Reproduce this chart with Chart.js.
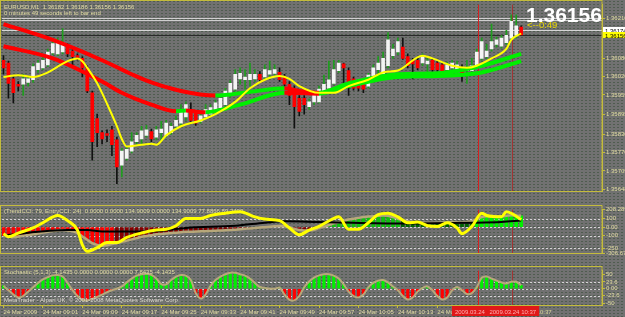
<!DOCTYPE html>
<html>
<head>
<meta charset="utf-8">
<title>EURUSD,M1</title>
<script src="https://cdn.jsdelivr.net/npm/chart.js@4.4.1/dist/chart.umd.min.js"></script>
<style>
  html, body { margin: 0; padding: 0; }
  body {
    width: 625px; height: 317px; overflow: hidden; position: relative;
    background-color: #717171;
    background-image: radial-gradient(circle, #4f5c4f 0.7px, transparent 0.9px);
    background-size: 4px 3px;
  }
  canvas { position: absolute; left: 0; }
</style>
</head>
<body>
<canvas id="price" width="625" height="205" style="top:0"></canvas>
<canvas id="cci" width="625" height="61" style="top:205px"></canvas>
<canvas id="stoch" width="625" height="51" style="top:266px"></canvas>
<script>
// EURUSD M1, 24 Mar 2009 08:53 .. 10:38, one entry per bar
const open = [
  1.36073,1.36064,1.36012,1.35994,1.35994,1.36000,1.36009,1.36042,1.36048,1.36058,
  1.36097,1.36094,1.36100,1.36119,1.36103,1.36088,1.36079,1.36048,1.35966,1.35881,
  1.35835,1.35832,1.35844,1.35811,1.35728,1.35750,1.35774,1.35805,1.35814,1.35826,
  1.35838,1.35820,1.35835,1.35826,1.35835,1.35856,1.35866,1.35887,1.35905,1.35902,
  1.35872,1.35887,1.35896,1.35905,1.35917,1.35927,1.35957,1.35978,1.36012,1.36009,
  1.36009,1.36012,1.36027,1.36018,1.36027,1.36030,1.36033,1.36018,1.35994,1.35978,
  1.35948,1.35948,1.35920,1.35936,1.35936,1.35972,1.35981,1.35997,1.36039,1.36061,
  1.36039,1.36012,1.36003,1.35997,1.35988,1.36018,1.36042,1.36027,1.36055,1.36088,
  1.36100,1.36116,1.36085,1.36073,1.36073,1.36064,1.36061,1.36073,1.36064,1.36058,
  1.36042,1.36048,1.36042,1.36048,1.36039,1.36039,1.36055,1.36079,1.36085,1.36110,
  1.36125,1.36119,1.36131,1.36146,1.36155,1.36182
];
const high = [
  1.36088,1.36070,1.36018,1.36003,1.36027,1.36018,1.36061,1.36073,1.36085,1.36110,
  1.36140,1.36146,1.36177,1.36128,1.36113,1.36094,1.36085,1.36055,1.35972,1.35896,
  1.35841,1.35844,1.35856,1.35820,1.35783,1.35789,1.35835,1.35835,1.35856,1.35859,
  1.35847,1.35856,1.35872,1.35875,1.35866,1.35890,1.35927,1.35936,1.35933,1.35908,
  1.35902,1.35927,1.35927,1.35942,1.35957,1.35981,1.36006,1.36042,1.36048,1.36042,
  1.36064,1.36042,1.36036,1.36058,1.36070,1.36058,1.36048,1.36027,1.36003,1.35988,
  1.35957,1.35957,1.35945,1.35972,1.35988,1.36024,1.36070,1.36073,1.36073,1.36064,
  1.36048,1.36018,1.36009,1.36003,1.36030,1.36058,1.36085,1.36100,1.36164,1.36125,
  1.36146,1.36146,1.36094,1.36079,1.36079,1.36094,1.36079,1.36079,1.36070,1.36064,
  1.36067,1.36073,1.36070,1.36058,1.36073,1.36079,1.36110,1.36146,1.36125,1.36192,
  1.36149,1.36155,1.36171,1.36222,1.36222,1.36186
];
const low = [
  1.36027,1.35948,1.35933,1.35972,1.35957,1.35988,1.36000,1.36033,1.36042,1.36052,
  1.36091,1.36088,1.36094,1.36085,1.36058,1.36073,1.36018,1.35966,1.35744,1.35789,
  1.35798,1.35805,1.35759,1.35667,1.35689,1.35744,1.35768,1.35798,1.35795,1.35820,
  1.35805,1.35811,1.35805,1.35820,1.35829,1.35850,1.35859,1.35875,1.35872,1.35859,
  1.35866,1.35881,1.35890,1.35899,1.35911,1.35920,1.35951,1.35972,1.35994,1.35978,
  1.35988,1.36003,1.36000,1.36012,1.36018,1.36024,1.36003,1.35988,1.35927,1.35850,
  1.35890,1.35896,1.35911,1.35927,1.35933,1.35966,1.35975,1.35994,1.36033,1.35997,
  1.35957,1.35975,1.35972,1.35966,1.35981,1.36012,1.36012,1.36021,1.36048,1.36079,
  1.36091,1.36076,1.36048,1.36012,1.36042,1.36055,1.36018,1.36036,1.36036,1.36033,
  1.36036,1.36042,1.36036,1.36003,1.35997,1.36030,1.36048,1.36073,1.36079,1.36103,
  1.36116,1.36113,1.36125,1.36140,1.36146,1.36156
];
const close = [
  1.36048,1.35997,1.35966,1.35988,1.36012,1.36012,1.36052,1.36064,1.36073,1.36100,
  1.36128,1.36137,1.36131,1.36094,1.36085,1.36082,1.36048,1.35972,1.35805,1.35835,
  1.35814,1.35826,1.35795,1.35722,1.35774,1.35780,1.35805,1.35826,1.35841,1.35844,
  1.35814,1.35844,1.35847,1.35866,1.35856,1.35875,1.35902,1.35927,1.35875,1.35866,
  1.35890,1.35911,1.35917,1.35933,1.35948,1.35972,1.35997,1.36027,1.36030,1.36018,
  1.36027,1.36027,1.36009,1.36042,1.36039,1.36042,1.36009,1.35994,1.35957,1.35920,
  1.35905,1.35927,1.35936,1.35966,1.35978,1.35994,1.36009,1.36042,1.36064,1.36048,
  1.35997,1.35981,1.35981,1.35978,1.36024,1.36048,1.36064,1.36079,1.36140,1.36110,
  1.36134,1.36079,1.36055,1.36061,1.36048,1.36085,1.36070,1.36042,1.36042,1.36039,
  1.36058,1.36064,1.36058,1.36027,1.36048,1.36055,1.36100,1.36134,1.36103,1.36134,
  1.36140,1.36146,1.36155,1.36201,1.36186,1.36156
];

// moving averages, read as [bar, price]
const fastMa = [
  [0,1.36018],[3,1.36024],[6,1.36018],[9,1.36033],[11,1.36052],[13,1.36070],[15,1.36079],
  [16,1.36070],[17,1.36048],[19,1.35997],[21,1.35930],[23,1.35856],[24,1.35814],[25,1.35789],
  [28,1.35795],[30,1.35798],[31,1.35795],[33,1.35826],[36,1.35856],[40,1.35875],[43,1.35896],
  [47,1.35936],[50,1.35981],[53,1.36009],[56,1.36021],[58,1.36012],[60,1.35988],[64,1.35966],
  [67,1.35966],[70,1.35988],[74,1.36009],[77,1.36033],[80,1.36039],[85,1.36088],[87,1.36079],
  [91,1.36055],[94,1.36048],[96,1.36055],[99,1.36079],[102,1.36110],[103,1.36140],[105,1.36161]
];
const slowMaA = [
  [0,1.36192],[10,1.36140],[20,1.36073],[26,1.36027],[30,1.36000],[36,1.35972],[43,1.35957],
  [50,1.35969],[57,1.35981],[60,1.35972],[64,1.35966],[70,1.35997],[80,1.36027],[88,1.36030],
  [97,1.36055],[105,1.36094]
];
const slowMaB = [
  [0,1.36119],[10,1.36079],[20,1.36003],[24,1.35966],[30,1.35927],[35,1.35905],[37,1.35908],
  [39,1.35904],[41,1.35902],[48,1.35927],[57,1.35966],[60,1.35965],[64,1.35963],[70,1.35988],
  [80,1.36018],[88,1.36021],[97,1.36033],[105,1.36070]
];

// CCI panel
const cciTrend = [
  -100,-110,-120,-110,-100,-95,-85,-75,-65,-55,
  -45,-40,-35,-40,-50,-70,-110,-150,-190,-210,
  -220,-215,-200,-190,-175,-160,-145,-130,-115,-105,
  -95,-85,-80,-75,-70,-65,-60,-55,-55,-52,
  -50,-48,-45,-42,-40,-38,-35,-30,-25,-20,
  -15,-10,-5,0,5,10,15,10,0,-20,
  -35,-40,-38,-30,-10,5,25,45,60,75,
  90,100,110,120,125,130,135,138,135,120,
  100,85,70,60,55,52,50,50,52,55,
  58,60,58,55,60,70,95,120,130,132,
  130,130,135,140,138,134.9009
];
const cciEntry = [
  [0,-78],[1,-113],[3,-70],[6,-9],[8,52],[11,139],[13,78],[15,-35],[16,-209],[17,-287],
  [19,-243],[21,-183],[23,-183],[25,-122],[28,-70],[31,-35],[33,-26],[35,17],[37,104],[40,104],
  [42,139],[45,165],[48,183],[51,122],[53,96],[56,78],[58,-9],[60,-90],[62,-35],[64,9],
  [67,104],[68,122],[70,-26],[72,-26],[74,52],[76,148],[78,165],[80,122],[82,52],[84,61],
  [86,17],[88,9],[90,52],[92,-9],[93,-78],[95,9],[97,165],[98,139],[101,122],[102,183],
  [103,165],[105,89.24]
];
const cciSignal = [
  [0,-96],[13,-35],[17,-35],[20,-52],[30,-52],[37,-9],[47,17],[53,52],[57,70],[64,61],
  [80,43],[95,52],[101,61],[105,77.8866]
];

// Stochastic panel
const stoch = [
  10,-5,-20,-30,-25,-10,5,20,32,40,
  46,47,42,20,-5,-25,-38,-40,-35,-28,
  -20,-12,-5,0,8,22,35,45,50,52,
  48,35,16,15,30,42,47,45,30,-15,
  -34,-20,10,30,42,50,55,55,50,45,
  35,20,6,3,0,0,4,-20,-38,-40,
  -25,5,25,38,46,50,50,45,35,15,
  -10,-25,-30,-20,5,20,28,30,22,8,
  -5,-25,-37,-30,-10,3,8,-5,-25,-37,
  -30,-5,6,-5,-18,-15,5,38,42,35,
  28,22,18,24,24,12
];

const tickBars = [0,8,16,24,32,40,48,56,64,72,80,88,96,104];
const tickLabels = ['24 Mar 2009','24 Mar 09:01','24 Mar 09:09','24 Mar 09:17','24 Mar 09:25',
  '24 Mar 09:33','24 Mar 09:41','24 Mar 09:49','24 Mar 09:57','24 Mar 10:05','24 Mar 10:13',
  '24 Mar 10:21','24 Mar 10:29','24 Mar 10:37'];
const priceTicks = [1.35648,1.35709,1.35770,1.35830,1.35895,1.35959,1.36020,1.36080,1.36210];
const cciTicks = [208.2899,100,0,-100,-250,-306.677];
const cciTickText = ['208.2899','100','0.00','-100','-250','-306.677'];
const cciLevels = [100,0,-100,-250];
const stochTicks = [50,23.6,0,-23.6,-50];
const stochTickText = ['50','23.6','0.00','-23.6','-50'];
const stochLevels = [23.6,0,-23.6];
const markers = [96, 103];
const markerText = ['2009.03.24 10:30', '2009.03.24 10:37'];
const dayHigh = 1.36210, askPrice = 1.36174;

const FRAME = '#c4bc3c';
const TEXT = '#e2dca2';
const SMALL = { family: "'Liberation Sans', sans-serif", size: 6 };
const last = close.length - 1;
const fmt = v => v.toFixed(5);
const pts = pairs => pairs.map(([x, y]) => ({ x, y }));
const isUp = i => close[i] >= open[i];
const trendColor = ctx => ctx.p1.parsed.y >= ctx.p0.parsed.y ? '#00f000' : '#ff0000';

function xAxis(show) {
  return {
    type: 'linear', min: -0.3, max: 121.4, offset: false, display: show,
    afterBuildTicks: s => { s.ticks = tickBars.map(v => ({ value: v })); },
    afterFit: s => { s.height = 12; },
    border: { color: FRAME },
    grid: { offset: false, drawOnChartArea: false, color: FRAME, tickLength: 3 },
    ticks: { autoSkip: false, maxRotation: 0, align: 'start', padding: 1, color: TEXT, font: SMALL,
      callback: (v, i) => tickLabels[i] }
  };
}
function yAxis(min, max, ticks, text) {
  return {
    position: 'right', min, max,
    afterFit: s => { s.width = 23; },
    afterBuildTicks: s => { s.ticks = ticks.map(v => ({ value: v })); },
    border: { color: FRAME },
    grid: { drawOnChartArea: false, color: FRAME, tickLength: 3 },
    ticks: { autoSkip: false, padding: 1, color: TEXT, font: SMALL, callback: text }
  };
}
const baseOptions = (padding, xShow, y) => ({
  responsive: false, animation: false, events: [],
  layout: { padding },
  plugins: { legend: { display: false }, tooltip: { enabled: false } },
  scales: { x: xAxis(xShow), y }
});

function hLine(ctx, a, y, color, width, dash) {
  ctx.save();
  ctx.strokeStyle = color; ctx.lineWidth = width; ctx.setLineDash(dash || []);
  ctx.beginPath(); ctx.moveTo(a.left, y); ctx.lineTo(a.right, y); ctx.stroke();
  ctx.restore();
}
function drawMarkers(chart) {
  const { ctx, chartArea: a, scales } = chart;
  ['#d42020', '#a03434'].forEach((c, k) => {
    const x = Math.round(scales.x.getPixelForValue(markers[k])) + 1.5;
    ctx.save(); ctx.strokeStyle = c; ctx.lineWidth = 1;
    ctx.beginPath(); ctx.moveTo(x, a.top); ctx.lineTo(x, a.bottom); ctx.stroke(); ctx.restore();
  });
}
function drawFrame(chart, top) {
  const { ctx, chartArea: a } = chart;
  ctx.save(); ctx.strokeStyle = FRAME; ctx.lineWidth = 1;
  ctx.strokeRect(0.5, top, a.right - 0.5, a.bottom - top + 0.5);
  ctx.restore();
}
function text(ctx, s, x, y, color, font) {
  ctx.save(); ctx.fillStyle = color; ctx.font = font; ctx.textBaseline = 'alphabetic';
  ctx.fillText(s, x, y); ctx.restore();
}
const smallFont = "6px 'Liberation Sans', sans-serif";

// price panel
new Chart(document.getElementById('price'), {
  type: 'bar',
  data: {
    datasets: [
      { type: 'line', data: pts(fastMa), borderColor: '#ffff00', borderWidth: 2, pointRadius: 0,
        cubicInterpolationMode: 'monotone', order: 0 },
      { type: 'line', data: pts(slowMaA), borderColor: '#00f000', segment: { borderColor: trendColor },
        borderWidth: 4, pointRadius: 0, cubicInterpolationMode: 'monotone', order: 1 },
      { type: 'line', data: pts(slowMaB), borderColor: '#00f000', segment: { borderColor: trendColor },
        borderWidth: 4, pointRadius: 0, cubicInterpolationMode: 'monotone', order: 1 },
      { data: open.map((o, i) => ({ x: i, y: [o, close[i]] })), grouped: false, barThickness: 3,
        minBarLength: 1, backgroundColor: c => isUp(c.dataIndex) ? '#f4f4f4' : '#ff0000', order: 2 },
      { data: low.map((l, i) => ({ x: i, y: [l, high[i]] })), grouped: false, barThickness: 1,
        backgroundColor: c => isUp(c.dataIndex) ? '#1e9e1e' : '#111111', order: 3 }
    ]
  },
  options: baseOptions({ top: 2, bottom: 2, left: 2 }, false,
    yAxis(1.35643, 1.36256, priceTicks, v => fmt(v))),
  plugins: [{
    id: 'priceDecor',
    beforeDatasetsDraw(chart) {
      const { ctx, chartArea: a, scales } = chart;
      const y = v => Math.round(scales.y.getPixelForValue(v)) + 0.5;
      hLine(ctx, a, y(dayHigh) - 1, '#cfcfcf', 1);
      hLine(ctx, a, y(dayHigh) + 1, '#cfcfcf', 1);
      hLine(ctx, a, y(askPrice), '#d6d6d6', 1);
      hLine(ctx, a, y(close[last]), '#2a2a2a', 1);
      drawMarkers(chart);
    },
    afterDraw(chart) {
      const { ctx, chartArea: a, scales } = chart;
      text(ctx, `EURUSD,M1  ${fmt(open[last])} ${fmt(high[last])} ${fmt(low[last])} ${fmt(close[last])}`,
        4, 9, TEXT, smallFont);
      text(ctx, '0 minutes 49 seconds left to bar end', 4, 15, TEXT, smallFont);
      text(ctx, fmt(close[last]), 526, 22, '#ffffff', "bold 21px 'Liberation Sans', sans-serif");
      text(ctx, '<--0:49', 527, 28, '#e8d800', "9.5px 'Liberation Sans', sans-serif");
      [[askPrice, '#ffffff'], [close[last], '#ffff00']].forEach(([v, bg]) => {
        const yy = Math.round(scales.y.getPixelForValue(v));
        ctx.save(); ctx.fillStyle = bg; ctx.fillRect(a.right + 1, yy - 3, 24, 6); ctx.restore();
        text(ctx, fmt(v), a.right + 3, yy + 2.5, '#000000', smallFont);
      });
      drawFrame(chart, 0.5);
    }
  }]
});

// CCI panel
const cciColor = c => {
  const i = c.dataIndex, v = cciTrend[i];
  if (v >= 0) return (i > 80 && i < 96) ? '#006400' : (i > 95 ? '#00f000' : '#10c010');
  return i < 23 ? '#ff0000' : '#860000';
};
new Chart(document.getElementById('cci'), {
  type: 'bar',
  data: {
    datasets: [
      { type: 'line', data: pts(cciEntry), borderColor: '#ffff00', borderWidth: 3, pointRadius: 0,
        cubicInterpolationMode: 'monotone', order: 0 },
      { type: 'line', data: pts(cciSignal), borderColor: '#000000', borderWidth: 2, pointRadius: 0,
        cubicInterpolationMode: 'monotone', order: 1 },
      { type: 'line', data: cciTrend.map((v, i) => ({ x: i, y: v })), borderColor: '#b7a87a',
        borderWidth: 2.5, pointRadius: 0, tension: 0.3, order: 2 },
      { data: cciTrend.map((v, i) => ({ x: i, y: v })), grouped: false, barThickness: 3,
        backgroundColor: cciColor, order: 3 }
    ]
  },
  options: baseOptions({ top: 1, bottom: 1, left: 2 }, false,
    yAxis(-306.677, 208.2899, cciTicks, (v, i) => cciTickText[i])),
  plugins: [{
    id: 'cciDecor',
    beforeDatasetsDraw(chart) {
      const { ctx, chartArea: a, scales } = chart;
      cciLevels.forEach(v => hLine(ctx, a, Math.round(scales.y.getPixelForValue(v)) + 0.5, '#d4d4d4', 1, [2, 2]));
      drawMarkers(chart);
      text(ctx, '(TrendCCI: 79, EntryCCI: 24)  0.0000 0.0000 ' + cciTrend[last].toFixed(4) + ' 0.0000 ' +
        cciTrend[last].toFixed(4) + ' 77.8866 89.2400', 4, 7.5, TEXT, smallFont);
    },
    afterDraw(chart) { drawFrame(chart, 0.5); }
  }]
});

// Stochastic panel
new Chart(document.getElementById('stoch'), {
  type: 'bar',
  data: {
    datasets: [
      { type: 'line', data: stoch.map((v, i) => ({ x: i, y: v })), borderColor: '#b7a87a',
        borderWidth: 2, pointRadius: 0, tension: 0.3, order: 0 },
      { data: stoch.map((v, i) => ({ x: i, y: v })), grouped: false, barThickness: 2.5,
        backgroundColor: c => stoch[c.dataIndex] >= 0 ? '#00f000' : '#ff0000', order: 1 }
    ]
  },
  options: baseOptions({ top: 1, bottom: 0, left: 2 }, true,
    yAxis(-56, 62.5, stochTicks, (v, i) => stochTickText[i])),
  plugins: [{
    id: 'stochDecor',
    beforeDatasetsDraw(chart) {
      const { ctx, chartArea: a, scales } = chart;
      stochLevels.forEach(v => hLine(ctx, a, Math.round(scales.y.getPixelForValue(v)) + 0.5, '#d4d4d4', 1, [2, 2]));
      drawMarkers(chart);
    },
    afterDatasetsDraw(chart) {
      const { ctx } = chart;
      text(ctx, 'Stochastic (5,1,3) -4.1435 0.0000 0.0000 0.0000 7.8435 -4.1435', 4, 8, TEXT, smallFont);
      text(ctx, 'MetaTrader - Alpari UK, \u00a9 2001-2008 MetaQuotes Software Corp.', 4, 36, '#dedad0', smallFont);
    },
    afterDraw(chart) {
      const { ctx, chartArea: a, scales } = chart;
      drawFrame(chart, 0.5);
      ctx.save(); ctx.font = smallFont;
      markers.forEach((m, k) => {
        const x = scales.x.getPixelForValue(m) + 1.5;
        const w = ctx.measureText(markerText[k]).width + 6;
        ctx.fillStyle = '#e01818'; ctx.fillRect(x - w / 2, a.bottom + 1, w, 10);
        ctx.fillStyle = '#ffb0b0'; ctx.fillText(markerText[k], x - w / 2 + 3, a.bottom + 9);
      });
      ctx.restore();
    }
  }]
});
</script>
</body>
</html>
